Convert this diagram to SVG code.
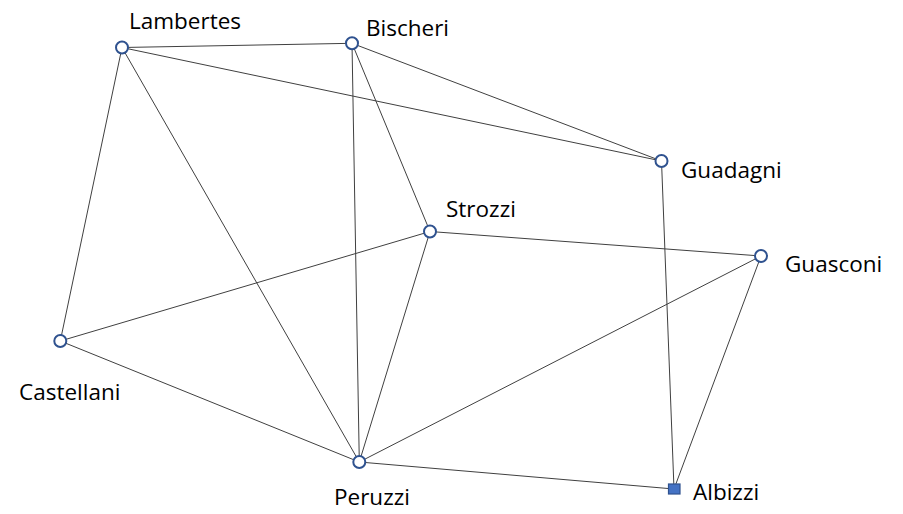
<svg xmlns="http://www.w3.org/2000/svg" width="903" height="514" viewBox="0 0 903 514">
<style>
.e{stroke:#404040;stroke-width:1;fill:none}
.n{fill:#fff;stroke:#2F528F;stroke-width:2}
.sq{fill:#4472C4;stroke:#2F528F;stroke-width:1.2}
text{font-family:"Open Sans",Lato,"Liberation Sans",sans-serif;font-size:22.5px;fill:#000}
</style>
<rect width="903" height="514" fill="#fff"/>
<g id="edges">
<line class="e" x1="122" y1="47.5" x2="352" y2="43.3"/>
<line class="e" x1="122" y1="47.5" x2="661.5" y2="161"/>
<line class="e" x1="122" y1="47.5" x2="60.3" y2="341"/>
<line class="e" x1="122" y1="47.5" x2="359.3" y2="462"/>
<line class="e" x1="352" y1="43.3" x2="661.5" y2="161"/>
<line class="e" x1="352" y1="43.3" x2="430" y2="231.5"/>
<line class="e" x1="352" y1="43.3" x2="359.3" y2="462"/>
<line class="e" x1="661.5" y1="161" x2="674" y2="489"/>
<line class="e" x1="430" y1="231.5" x2="761" y2="256"/>
<line class="e" x1="430" y1="231.5" x2="60.3" y2="341"/>
<line class="e" x1="430" y1="231.5" x2="359.3" y2="462"/>
<line class="e" x1="761" y1="256" x2="359.3" y2="462"/>
<line class="e" x1="761" y1="256" x2="674" y2="489"/>
<line class="e" x1="60.3" y1="341" x2="359.3" y2="462"/>
<line class="e" x1="359.3" y1="462" x2="674" y2="489"/>
</g>
<g id="Lambertes"><circle class="n" cx="122" cy="47.5" r="6"/><text x="129" y="28.5">Lambertes</text></g>
<g id="Bischeri"><circle class="n" cx="352" cy="43.3" r="6"/><text x="366" y="35.5">Bischeri</text></g>
<g id="Guadagni"><circle class="n" cx="661.5" cy="161" r="6"/><text x="681" y="178">Guadagni</text></g>
<g id="Strozzi"><circle class="n" cx="430" cy="231.5" r="6"/><text x="446" y="217">Strozzi</text></g>
<g id="Guasconi"><circle class="n" cx="761" cy="256" r="6"/><text x="785" y="272">Guasconi</text></g>
<g id="Castellani"><circle class="n" cx="60.3" cy="341" r="6"/><text x="19" y="400">Castellani</text></g>
<g id="Peruzzi"><circle class="n" cx="359.3" cy="462" r="6"/><text x="334" y="505">Peruzzi</text></g>
<g id="Albizzi"><rect class="sq" x="668.5" y="484" width="11.5" height="10"/><text x="693" y="500">Albizzi</text></g>
</svg>
